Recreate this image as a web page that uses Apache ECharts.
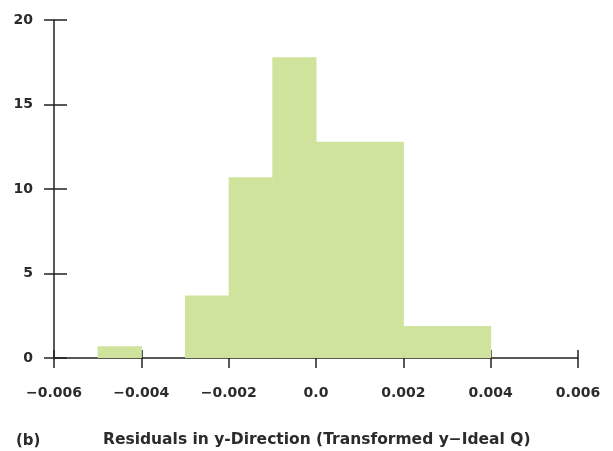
<!DOCTYPE html>
<html><head><meta charset="utf-8">
<script src="https://cdn.jsdelivr.net/npm/echarts@6/dist/echarts.min.js"></script>
<style>html,body{margin:0;padding:0;background:#fff}#c{width:613px;height:451px}</style>
</head><body><div id="c"></div>
<script>
// Histogram bins: [start, end] of residual, and counts
var binStarts = [-0.005, -0.003, -0.002, -0.001, 0.000, 0.001, 0.002, 0.003];
var binEnds   = [-0.004, -0.002, -0.001,  0.000, 0.001, 0.002, 0.003, 0.004];
var counts    = [0.7, 3.7, 10.7, 17.8, 12.8, 12.8, 1.9, 1.9];
var xTicks = [-0.006, -0.004, -0.002, 0.0, 0.002, 0.004, 0.006];
var yTicks = [0, 5, 10, 15, 20];
var xTitle = 'Residuals in y-Direction (Transformed y\u2212Ideal Q)';
var panelLabel = '(b)';

var data = binStarts.map(function(s, i){ return [s, binEnds[i], counts[i]]; });
var font = '"DejaVu Sans", sans-serif';
var txt = '#2b2b2b';
function fmtX(v){
  if (Math.abs(v) < 1e-9) return '0.0';
  var s = Math.abs(v).toFixed(3);
  return (v < 0 ? '\u2212' : '') + s;
}
var chart = echarts.init(document.getElementById('c'));
var tickStyle = {color:'#222', width:1.5};
chart.setOption({
  animation:false,
  grid:{left:54, right:35, top:20, bottom:93},
  xAxis:[{
    type:'value', min:-0.006, max:0.006, interval:0.002,
    axisLine:{show:true, onZero:false, lineStyle:tickStyle}, splitLine:{show:false},
    axisTick:{show:true, inside:false, length:10, lineStyle:tickStyle},
    axisLabel:{margin:28, color:txt, fontFamily:font, fontWeight:'bold', fontSize:14, formatter:fmtX}
  },{
    type:'value', min:-0.006, max:0.006, interval:0.002, position:'bottom',
    axisLine:{show:false, onZero:false}, splitLine:{show:false}, axisLabel:{show:false},
    axisTick:{show:true, inside:true, length:8, lineStyle:tickStyle}
  }],
  yAxis:[{
    type:'value', min:0, max:20, interval:5,
    axisLine:{show:true, onZero:false, lineStyle:tickStyle}, splitLine:{show:false},
    axisTick:{show:true, inside:false, length:10, lineStyle:tickStyle},
    axisLabel:{margin:21, color:txt, fontFamily:font, fontWeight:'bold', fontSize:14}
  },{
    type:'value', min:0, max:20, interval:5, position:'left',
    axisLine:{show:false, onZero:false}, splitLine:{show:false}, axisLabel:{show:false},
    axisTick:{show:true, inside:true, length:13, lineStyle:tickStyle}
  }],
  series:[{
    type:'custom', xAxisIndex:0, yAxisIndex:0, z:1,
    data:data,
    renderItem:function(params, api){
      var p0 = api.coord([api.value(0), api.value(2)]);
      var p1 = api.coord([api.value(1), 0]);
      return {type:'rect', shape:{x:p0[0], y:p0[1], width:p1[0]-p0[0]+0.5, height:p1[1]-p0[1]},
              style:{fill:'#cfe39c'}};
    }
  }],
  graphic:[
    {type:'text', left:16, top:434, style:{text:panelLabel, font:'bold 15px '+font, fill:txt}},
    {type:'text', left:103, top:432, style:{text:xTitle, font:'bold 15.5px '+font, fill:txt}}
  ]
});
</script></body></html>
